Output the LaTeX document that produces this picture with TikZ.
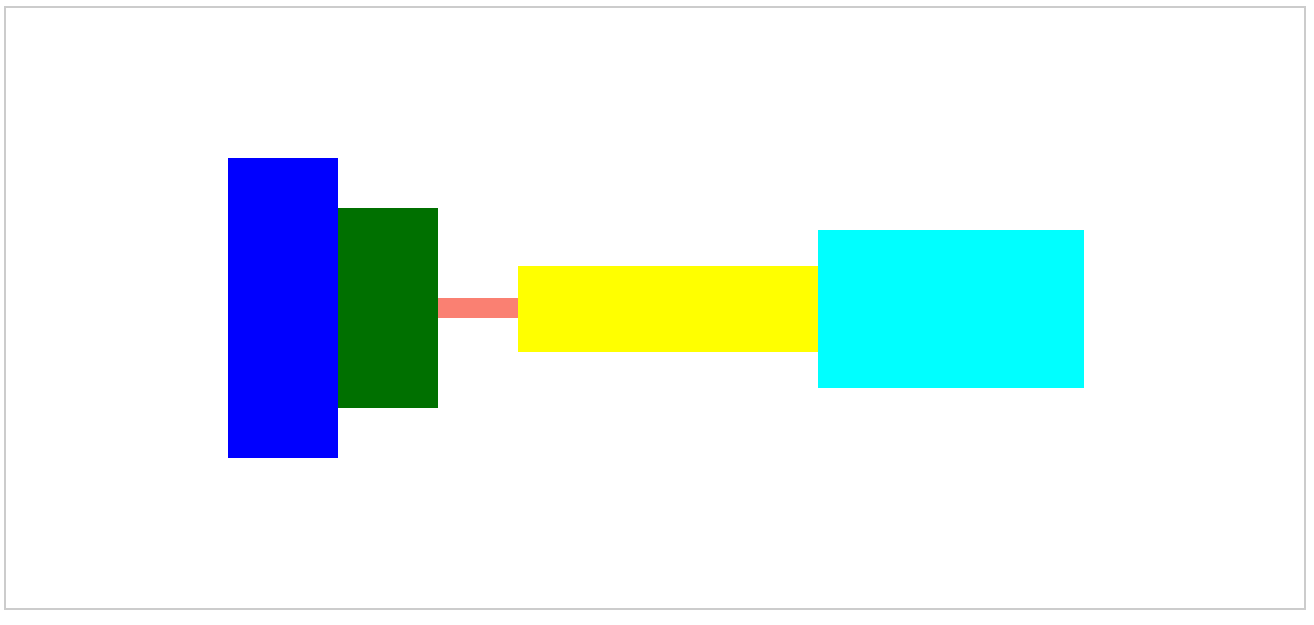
\documentclass[tikz,border=0pt]{standalone}
\definecolor{frame}{HTML}{CCCCCC}
\definecolor{dgreen}{HTML}{007000}
\definecolor{salmon}{HTML}{FA8072}
\definecolor{pureblue}{HTML}{0000FF}
\definecolor{pureyellow}{HTML}{FFFF00}
\definecolor{purecyan}{HTML}{00FFFF}
\begin{document}
\begin{tikzpicture}[x=1pt,y=-1pt,
  blockbox/.style={draw=none,inner sep=0pt,outer sep=0pt,anchor=north west}]
\useasboundingbox (0,0) rectangle (1314,624);
\draw[frame,line width=1.5pt] (5,7) rectangle (1305,609);
\node[blockbox,fill=pureblue,minimum width=110pt,minimum height=300pt] (blue) at (228,158) {};
\node[blockbox,fill=dgreen,minimum width=100pt,minimum height=200pt] (green) at (338,208) {};
\node[blockbox,fill=salmon,minimum width=80pt,minimum height=20pt] (link) at (438,298) {};
\node[blockbox,fill=pureyellow,minimum width=300pt,minimum height=86pt] (yel) at (518,266) {};
\node[blockbox,fill=purecyan,minimum width=266pt,minimum height=158pt] (cyanb) at (818,230) {};
\end{tikzpicture}
\end{document}
